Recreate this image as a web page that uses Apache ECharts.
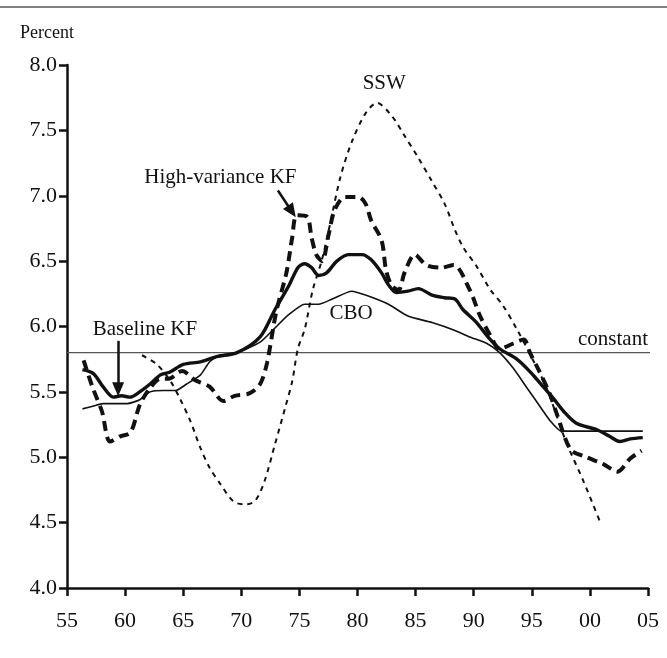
<!DOCTYPE html>
<html><head><meta charset="utf-8">
<script src="https://cdn.jsdelivr.net/npm/echarts@6/dist/echarts.min.js"></script>
<style>html,body{margin:0;padding:0;background:#fff}#c{width:667px;height:658px}</style>
</head><body><div id="c"></div>
<script>
// ---- data ----
const xTickLabels = ['55','60','65','70','75','80','85','90','95','00','05'];
const yTickLabels = ['4.0','4.5','5.0','5.5','6.0','6.5','7.0','7.5','8.0'];

const baseYears = [1956.33,1957.27,1958.10,1958.99,1959.68,1960.42,1961.26,1962.15,1963.04,1963.82,1965.01,1966.49,1967.87,1969.64,1971.62,1972.90,1974.08,1974.87,1975.46,1976.05,1976.65,1977.34,1978.22,1979.21,1980.39,1981.18,1982.07,1982.66,1983.35,1984.34,1985.23,1986.41,1987.49,1988.38,1989.07,1990.25,1991.14,1992.23,1993.71,1994.89,1995.97,1996.86,1997.75,1998.83,2000.61,2001.69,2002.58,2003.47,2004.55];
const baseVals  = [5.67,5.64,5.54,5.46,5.47,5.46,5.50,5.56,5.63,5.65,5.71,5.73,5.77,5.80,5.92,6.13,6.31,6.45,6.48,6.45,6.39,6.41,6.50,6.55,6.55,6.51,6.41,6.32,6.26,6.27,6.29,6.24,6.22,6.21,6.13,6.03,5.93,5.83,5.75,5.65,5.54,5.45,5.35,5.26,5.21,5.16,5.12,5.14,5.15];

const cboYears = [1956.33,1957.22,1958.10,1960.18,1961.26,1962.15,1963.33,1964.32,1965.30,1966.49,1967.28,1968.16,1969.64,1971.62,1972.80,1974.08,1975.46,1976.65,1977.83,1979.50,1980.69,1982.66,1984.34,1986.41,1988.38,1989.66,1991.14,1992.23,1993.41,1994.59,1995.38,1996.57,1997.55,2004.55];
const cboVals  = [5.37,5.39,5.41,5.41,5.44,5.50,5.51,5.51,5.56,5.63,5.73,5.78,5.80,5.88,5.98,6.09,6.17,6.17,6.21,6.27,6.24,6.17,6.08,6.03,5.97,5.92,5.87,5.80,5.68,5.53,5.43,5.28,5.20,5.20];

const hvYears = [1956.43,1957.22,1958.01,1958.70,1959.58,1960.47,1961.26,1962.15,1963.04,1963.73,1964.91,1966.00,1967.27,1968.46,1969.44,1970.73,1971.62,1972.21,1973.00,1973.88,1974.38,1974.77,1975.66,1976.05,1976.45,1976.94,1977.53,1978.03,1978.91,1980.10,1980.69,1981.18,1982.07,1982.46,1982.96,1983.55,1984.04,1984.93,1985.92,1987.20,1988.28,1989.66,1990.55,1991.44,1992.23,1993.41,1994.30,1994.89,1995.58,1996.57,1997.16,1998.34,1999.72,2001.10,2002.38,2003.47,2004.45];
const hvVals  = [5.74,5.53,5.35,5.12,5.16,5.19,5.40,5.53,5.60,5.60,5.66,5.59,5.54,5.43,5.47,5.49,5.56,5.72,6.11,6.41,6.68,6.85,6.84,6.68,6.55,6.50,6.71,6.89,6.99,6.99,6.94,6.81,6.66,6.43,6.31,6.28,6.41,6.55,6.47,6.45,6.47,6.28,6.08,5.93,5.83,5.87,5.90,5.79,5.67,5.48,5.33,5.06,5.00,4.95,4.89,4.99,5.05];

const sswYears = [1961.46,1962.74,1963.92,1964.71,1965.60,1966.49,1967.27,1968.16,1969.35,1970.43,1971.22,1972.01,1972.90,1973.78,1974.38,1974.87,1975.46,1976.15,1976.94,1977.63,1978.52,1979.50,1980.69,1981.67,1982.96,1984.04,1985.23,1986.41,1987.49,1988.38,1989.07,1990.25,1991.44,1992.52,1993.71,1994.89,1996.27,1997.94,1999.43,2000.90];
const sswVals  = [5.78,5.71,5.58,5.45,5.28,5.07,4.92,4.80,4.66,4.64,4.67,4.82,5.10,5.38,5.58,5.83,5.98,6.28,6.51,6.78,7.14,7.41,7.63,7.71,7.61,7.46,7.29,7.11,6.94,6.74,6.61,6.46,6.28,6.16,5.98,5.78,5.53,5.12,4.82,4.50];

const constYears = [1955, 2005.5];
const constVals = [5.8, 5.8];

function pairs(xs, ys){ return xs.map((x,i)=>[x, ys[i]]); }

const serif = '"Liberation Serif","DejaVu Serif",serif';
const chart = echarts.init(document.getElementById('c'), null, {renderer:'canvas'});

const option = {
  animation:false,
  backgroundColor:'#fff',
  grid:{left:67, right:19, top:65, bottom:70},
  xAxis:{type:'value', min:1955, max:2005, interval:5,
    axisLine:{lineStyle:{color:'#111', width:2.5}},
    axisTick:{length:8, lineStyle:{color:'#111', width:2.5}},
    axisLabel:{color:'#111', fontFamily:serif, fontSize:22, margin:22,
      formatter:v=>xTickLabels[Math.round((v-1955)/5)]},
    splitLine:{show:false}},
  yAxis:{type:'value', min:4, max:8, interval:0.5,
    axisLine:{show:true, lineStyle:{color:'#111', width:2.5}},
    axisTick:{show:true, length:8, lineStyle:{color:'#111', width:2.5}},
    axisLabel:{color:'#111', fontFamily:serif, fontSize:22, margin:10,
      formatter:v=>yTickLabels[Math.round((v-4)/0.5)]},
    splitLine:{show:false}},
  series:[
    {name:'constant', type:'line', data:pairs(constYears,constVals), symbol:'none', clip:false,
      lineStyle:{color:'#555', width:1.3}},
    {name:'SSW', type:'line', data:pairs(sswYears,sswVals), symbol:'none', smooth:0.3,
      lineStyle:{color:'#111', width:2, type:[5,5]}},
    {name:'CBO', type:'line', data:pairs(cboYears,cboVals), symbol:'none', smooth:0.2,
      lineStyle:{color:'#111', width:1.6}},
    {name:'Baseline KF', type:'line', data:pairs(baseYears,baseVals), symbol:'none', smooth:0.3,
      lineStyle:{color:'#111', width:3.4}},
    {name:'High-variance KF', type:'line', data:pairs(hvYears,hvVals), symbol:'none', smooth:0.3,
      lineStyle:{color:'#111', width:4, type:[10,6]}},
    {name:'arrows', type:'line', data:[], symbol:'none',
      markLine:{silent:true, symbol:['none','triangle'], symbolSize:[12,14], label:{show:false},
        lineStyle:{color:'#111', width:2.5, type:'solid'},
        data:[
          [{coord:[1959.4,5.89]},{coord:[1959.4,5.52]}],
          [{coord:[1973.15,7.04]},{coord:[1974.35,6.88]}]
        ]}}
  ]
};
chart.setOption(option);

// text annotations positioned from data coordinates
const ann = [
  {t:'Baseline KF', x:1961.7, y:5.98, align:'center'},
  {t:'High-variance KF', x:1968.2, y:7.14, align:'center'},
  {t:'SSW', x:1982.3, y:7.86, align:'center'},
  {t:'CBO', x:1979.45, y:6.10, align:'center'},
  {t:'constant', x:2005.0, y:5.90, align:'right'}
];
const g = ann.map(a=>{
  const p = chart.convertToPixel({gridIndex:0}, [a.x, a.y]);
  return {type:'text', x:p[0], y:p[1], style:{text:a.t, fill:'#111', font:'21px '+serif, textAlign:a.align, textVerticalAlign:'middle'}};
});
g.push({type:'text', left:20, top:24, style:{text:'Percent', fill:'#111', font:'18px '+serif}});
g.push({type:'line', shape:{x1:0,y1:7,x2:667,y2:7}, style:{stroke:'#555', lineWidth:1.5}});
chart.setOption({graphic:g});
</script></body></html>
